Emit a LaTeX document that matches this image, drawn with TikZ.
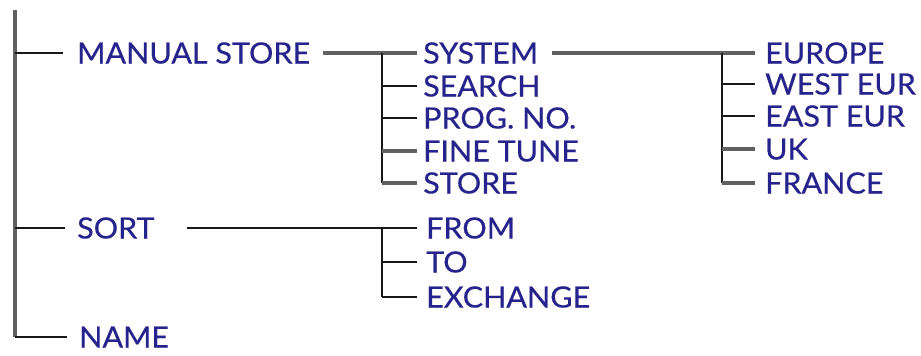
\documentclass[tikz,border=0pt]{standalone}
\usepackage{fontspec}
\setmainfont{Lato}[FakeStretch=1.04,FakeBold=0.5]
\definecolor{menublue}{RGB}{38,36,140}
\begin{document}
\begin{tikzpicture}[x=1pt,y=-1pt,
  lbl/.style={font=\fontsize{29.3}{30}\selectfont, text=menublue, inner sep=0pt, anchor=west, text height=21pt, text depth=0pt},
  heavy/.style={draw=black!62, line width=3.8pt},
  light/.style={draw=black!90, line width=2.2pt}]
\useasboundingbox (0,0) rectangle (921,356);
% labels
\node[lbl] (manual) at (77,53) {MANUAL STORE};
\node[lbl] (sort) at (77,228) {SORT};
\node[lbl] (name) at (79,337) {NAME};
\node[lbl] (system) at (423,53) {SYSTEM};
\node[lbl] (search) at (423,86) {SEARCH};
\node[lbl] (prog) at (423,118) {PROG. NO.};
\node[lbl] (fine) at (423,151) {FINE TUNE};
\node[lbl] (store) at (423,183) {STORE};
\node[lbl] (europe) at (765,53) {EUROPE};
\node[lbl] (westeur) at (765,84) {WEST EUR};
\node[lbl] (easteur) at (765,116) {EAST EUR};
\node[lbl] (uk) at (765,149) {UK};
\node[lbl] (france) at (765,183) {FRANCE};
\node[lbl] (from) at (426,228) {FROM};
\node[lbl] (to) at (426,262) {TO};
\node[lbl] (exch) at (426,297) {EXCHANGE};
% junction columns and free ends
\coordinate (top) at (15,10);
\coordinate (j1) at (382,0);
\coordinate (j2) at (722,0);
\coordinate (msout) at (323,53);
\coordinate (sysout) at (552,53);
\coordinate (sortout) at (187,228);
% main spine
\draw[heavy] (top) -- (top |- name.west);
\draw[light] (top |- name.west) -- ([xshift=-12pt]name.west);
\draw[light] (top |- manual.west) -- ([xshift=-14pt]manual.west);
\draw[light] (top |- sort.west) -- ([xshift=-12pt]sort.west);
% manual store submenu
\draw[heavy] (msout) -- ([xshift=-6pt]system.west);
\draw[light] (j1 |- system.west) -- (j1 |- store.west);
\draw[light] (j1 |- search.west) -- ([xshift=-6pt]search.west);
\draw[light] (j1 |- prog.west) -- ([xshift=-6pt]prog.west);
\draw[heavy] (j1 |- fine.west) -- ([xshift=-6pt]fine.west);
\draw[heavy] (j1 |- store.west) -- ([xshift=-6pt]store.west);
% system submenu
\draw[heavy] (sysout) -- ([xshift=-10pt]europe.west);
\draw[light] (j2 |- europe.west) -- (j2 |- france.west);
\draw[light] (j2 |- westeur.west) -- ([xshift=-10pt]westeur.west);
\draw[light] (j2 |- easteur.west) -- ([xshift=-10pt]easteur.west);
\draw[heavy] (j2 |- uk.west) -- ([xshift=-10pt]uk.west);
\draw[heavy] (j2 |- france.west) -- ([xshift=-10pt]france.west);
% sort submenu
\draw[light] (sortout) -- ([xshift=-9pt]from.west);
\draw[light] (j1 |- from.west) -- (j1 |- exch.west);
\draw[light] (j1 |- to.west) -- ([xshift=-9pt]to.west);
\draw[light] (j1 |- exch.west) -- ([xshift=-9pt]exch.west);
\end{tikzpicture}
\end{document}
